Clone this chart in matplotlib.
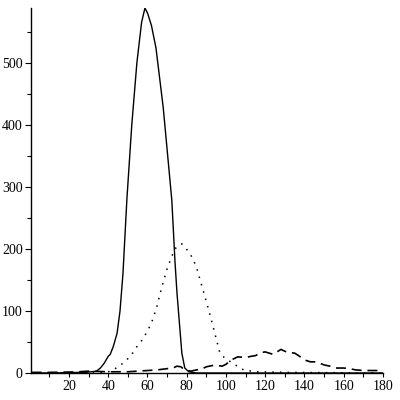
import numpy as np
import matplotlib
matplotlib.use('Agg')
import matplotlib.pyplot as plt
from matplotlib.ticker import MultipleLocator

# solid curve
solid_x = [1, 10, 20, 30, 34, 36, 38, 40, 41, 42.5, 44.5, 46, 47.5, 49.5, 52, 54.6, 57, 58.7,
           60, 62, 64.3, 66, 68, 70, 72.4, 74, 75, 77.5, 79, 81, 85, 90, 180]
solid_y = [0, 0, 0.5, 1.5, 3, 8, 16, 27, 30, 42, 64, 100, 160, 280, 400, 500, 565, 588,
           580, 560, 524, 480, 428, 360, 278, 180, 130, 32, 8, 2, 0, 0, 0]

# dotted curve
dot_x = [1, 30, 40, 42.5, 46, 49.4, 52, 54.5, 57, 60.3, 62.5, 64.7, 67, 69.8, 72, 74,
         76, 77.5, 79, 81, 83, 85, 86.8, 90, 93.5, 96.9, 100, 103.7, 106, 109, 115, 130, 180]
dot_y = [0, 0, 2, 5, 12, 21, 30, 42, 52, 69, 85, 106, 135, 166, 185, 200,
         206, 208, 203, 195, 185, 170, 150, 115, 74, 32, 22, 16, 10, 5, 2, 1, 0]

# dashed curve
dash_x = [1, 10, 20, 25, 30, 40, 50, 60, 65, 70, 73, 75, 77, 79, 82, 85, 88, 90, 93, 96,
          98, 100, 102, 104, 106, 110, 113, 115, 118, 120, 122, 124, 126, 128, 130, 132,
          135, 137, 140, 143, 146, 150, 153, 156, 160, 163, 166, 170, 175, 180]
dash_y = [1, 1, 1.5, 2, 3, 2, 2, 4, 5, 7, 8, 11, 10, 5, 3, 5, 7, 10, 12, 12,
          11, 14, 20, 23, 26, 25, 27, 28, 33, 34, 32, 30, 34, 38, 35, 33,
          32, 28, 21, 18, 18, 13, 11, 8, 8, 7, 5, 4, 4, 4]

plt.rcParams['font.family'] = ['Liberation Serif', 'DejaVu Serif']

fig = plt.figure(figsize=(4, 4), dpi=100)
ax = fig.add_axes([31/400, 27/400, 352/400, 365/400])

ax.plot(solid_x, solid_y, color='black', lw=1.0)
ax.plot(dot_x, dot_y, color='black', lw=1.1, linestyle=(0, (1, 4)))
ax.plot(dash_x, dash_y, color='black', lw=1.2, linestyle=(0, (6, 3.5)))

ax.set_xlim(0.64, 180)
ax.set_ylim(0, 588)

for s in ['top', 'right']:
    ax.spines[s].set_visible(False)
ax.spines['left'].set_linewidth(1.0)
ax.spines['bottom'].set_linewidth(1.0)

ax.xaxis.set_major_locator(MultipleLocator(20))
ax.xaxis.set_minor_locator(MultipleLocator(10))
ax.yaxis.set_major_locator(MultipleLocator(100))
ax.yaxis.set_minor_locator(MultipleLocator(50))
ax.tick_params(which='both', direction='out', width=0.8, labelsize=10, pad=2)
ax.tick_params(axis='y', which='major', length=4)
ax.tick_params(axis='y', which='minor', length=3)
ax.tick_params(axis='x', which='both', length=3)
ax.set_xticks([20, 40, 60, 80, 100, 120, 140, 160, 180])
ax.set_yticks([0, 100, 200, 300, 400, 500])

fig.savefig('out.png', dpi=100)
